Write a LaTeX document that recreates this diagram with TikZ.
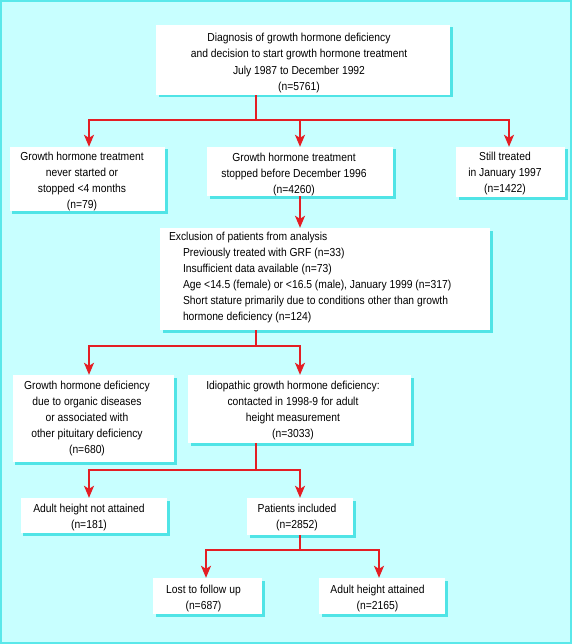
\documentclass[tikz,border=0pt]{standalone}
\usepackage{fontspec}
\setmainfont{Liberation Sans}[FakeStretch=0.89]
\usetikzlibrary{arrows.meta,shadows}
\definecolor{bgc}{RGB}{200,255,255}
\definecolor{framec}{RGB}{90,232,234}
\definecolor{shadc}{RGB}{80,228,230}
\definecolor{redc}{RGB}{228,30,36}
\begin{document}
\begin{tikzpicture}[x=1bp,y=-1bp,
  box/.style={draw=none, fill=white, inner sep=0pt,
    general shadow={fill=shadc, shadow xshift=2.5bp, shadow yshift=-2.5bp}},
  lbl/.style={align=center, inner sep=0pt, text=black, font=\fontsize{11.6bp}{16bp}\selectfont},
  link/.style={draw=redc, line width=1.7bp},
  arr/.style={link, -{Stealth[length=12bp,width=10bp,inset=3bp]}}]
\useasboundingbox (0,0) rectangle (572,644);
\fill[bgc] (0,0) rectangle (572,644);
\draw[framec, line width=2bp] (1,1) rectangle (571,643);

\node[box, minimum width=294bp, minimum height=70bp,
  label={[lbl,xshift=-4bp,yshift=-3bp]center:{Diagnosis of growth hormone deficiency\\and decision to start growth hormone treatment\\July 1987 to December 1992\\(n=5761)}}] (top) at (303,60) {};

\node[box, minimum width=155bp, minimum height=64bp,
  label={[lbl,xshift=-5.5bp,yshift=-2bp]center:{Growth hormone treatment\\never started or\\stopped <4 months\\(n=79)}}] (a1) at (87.5,179) {};
\node[box, minimum width=186bp, minimum height=49bp,
  label={[lbl,xshift=-6bp,yshift=-2.5bp]center:{Growth hormone treatment\\stopped before December 1996\\(n=4260)}}] (a2) at (300,171.5) {};
\node[box, minimum width=109bp, minimum height=50bp,
  label={[lbl,xshift=-5.5bp,yshift=-1.5bp]center:{Still treated\\in January 1997\\(n=1422)}}] (a3) at (510.5,172) {};

\node[box, minimum width=330bp, minimum height=102bp,
  label={[lbl,align=left,anchor=west,xshift=9bp,yshift=1.5bp]west:{Exclusion of patients from analysis\\
  \hspace*{14bp}Previously treated with GRF (n=33)\\
  \hspace*{14bp}Insufficient data available (n=73)\\
  \hspace*{14bp}Age <14.5 (female) or <16.5 (male), January 1999 (n=317)\\
  \hspace*{14bp}Short stature primarily due to conditions other than growth\\
  \hspace*{14bp}hormone deficiency (n=124)}}] (excl) at (325,279) {};

\node[box, minimum width=161bp, minimum height=87bp,
  label={[lbl,xshift=-6.5bp]center:{Growth hormone deficiency\\due to organic diseases\\or associated with\\other pituitary deficiency\\(n=680)}}] (b1) at (93.5,418.5) {};
\node[box, minimum width=223bp, minimum height=68bp,
  label={[lbl,xshift=-6.5bp,yshift=-1bp]center:{Idiopathic growth hormone deficiency:\\contacted in 1998-9 for adult\\height measurement\\(n=3033)}}] (b2) at (299.5,409) {};

\node[box, minimum width=146bp, minimum height=35bp,
  label={[lbl,xshift=-5bp,yshift=-1.5bp]center:{Adult height not attained\\(n=181)}}] (c1) at (94,515.5) {};
\node[box, minimum width=106bp, minimum height=37bp,
  label={[lbl,xshift=-3bp,yshift=-0.5bp]center:{Patients included\\(n=2852)}}] (c2) at (300,516.5) {};

\node[box, minimum width=109bp, minimum height=36bp,
  label={[lbl,xshift=-4bp,yshift=-2bp]center:{Lost to follow up\\(n=687)}}] (d1) at (207.5,596) {};
\node[box, minimum width=126bp, minimum height=36bp,
  label={[lbl,xshift=-4.5bp,yshift=-2bp]center:{Adult height attained\\(n=2165)}}] (d2) at (382,596) {};

\coordinate (colL) at (89,0);
\coordinate (colM) at (300,0);
\coordinate (colR) at (509,0);
\coordinate (colA) at (206,0);
\coordinate (colB) at (379,0);
\coordinate (j1) at (256,120);
\coordinate (j2) at (256,346);
\coordinate (j3) at (256,470);
\coordinate (j4) at (300,550);

\draw[link] (top.south -| j1) -- (j1);
\draw[arr] (j1) -| (a1.north -| colL);
\draw[arr] (j1) -| (a2.north -| colM);
\draw[arr] (j1) -| (a3.north -| colR);
\draw[arr] (a2.south -| colM) -- (excl.north -| colM);
\draw[link] (excl.south -| j2) -- (j2);
\draw[arr] (j2) -| (b1.north -| colL);
\draw[arr] (j2) -| (b2.north -| colM);
\draw[link] (b2.south -| j3) -- (j3);
\draw[arr] (j3) -| (c1.north -| colL);
\draw[arr] (j3) -| (c2.north -| colM);
\draw[link] (c2.south -| j4) -- (j4);
\draw[arr] (j4) -| (d1.north -| colA);
\draw[arr] (j4) -| (d2.north -| colB);
\end{tikzpicture}
\end{document}
